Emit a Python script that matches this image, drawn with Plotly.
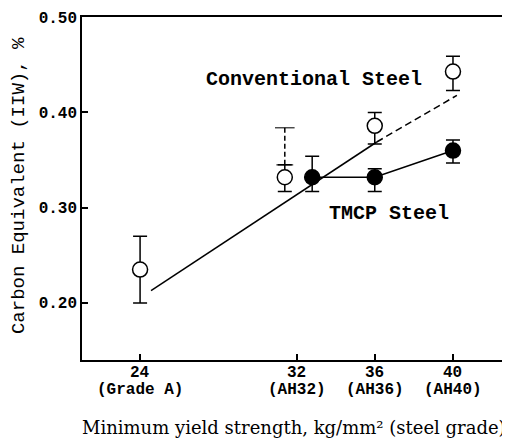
import plotly.graph_objects as go

# yield strength (kg/mm2) and grade labels
tick_vals = [24, 32, 36, 40]
tick_num = ['24', '32', '36', '40']
tick_grade = ['(Grade A)', '(AH32)', '(AH36)', '(AH40)']

# conventional steel (open circles)
conv_x = [24, 31.4, 36, 40]
conv_ce = [0.235, 0.332, 0.386, 0.443]
conv_up = [0.270, 0.345, 0.400, 0.459]
conv_lo = [0.200, 0.317, 0.367, 0.423]
# dashed extension of the error bar at 32
conv_ext_x = [31.4, 31.4]
conv_ext_y = [0.345, 0.384]

# TMCP steel (filled circles)
tmcp_x = [32.8, 36, 40]
tmcp_ce = [0.332, 0.332, 0.360]
tmcp_up = [0.354, 0.341, 0.371]
tmcp_lo = [0.317, 0.317, 0.347]

# trend lines
conv_line_x = [24.56, 36.1]
conv_line_y = [0.213, 0.369]
conv_dash_x = [36.1, 40.2]
conv_dash_y = [0.369, 0.418]

mono = 'Liberation Mono'

fig = go.Figure()

fig.add_trace(go.Scatter(x=conv_line_x, y=conv_line_y, mode='lines',
                         line=dict(color='black', width=1.5), showlegend=False))
fig.add_trace(go.Scatter(x=conv_dash_x, y=conv_dash_y, mode='lines',
                         line=dict(color='black', width=1.5, dash='7px,4px'), showlegend=False))
fig.add_trace(go.Scatter(x=tmcp_x, y=tmcp_ce, mode='lines',
                         line=dict(color='black', width=1.5), showlegend=False))

fig.add_trace(go.Scatter(x=conv_ext_x, y=conv_ext_y, mode='lines+markers',
                         line=dict(color='black', width=1.5, dash='5px,3px'),
                         marker=dict(symbol='line-ew', size=[12, 14],
                                     line=dict(color='black', width=1.5)),
                         showlegend=False))

fig.add_trace(go.Scatter(
    x=conv_x, y=conv_ce, mode='markers',
    marker=dict(symbol='circle', size=15, color='white',
                line=dict(color='black', width=1.5)),
    error_y=dict(type='data', symmetric=False,
                 array=[u - c for u, c in zip(conv_up, conv_ce)],
                 arrayminus=[c - l for l, c in zip(conv_lo, conv_ce)],
                 color='black', thickness=1.5, width=7),
    showlegend=False))

fig.add_trace(go.Scatter(
    x=tmcp_x, y=tmcp_ce, mode='markers',
    marker=dict(symbol='circle', size=15, color='black',
                line=dict(color='black', width=1.5)),
    error_y=dict(type='data', symmetric=False,
                 array=[u - c for u, c in zip(tmcp_up, tmcp_ce)],
                 arrayminus=[c - l for l, c in zip(tmcp_lo, tmcp_ce)],
                 color='black', thickness=1.5, width=7),
    showlegend=False))

fig.add_annotation(x=32.9, y=0.435, text='Conventional Steel', showarrow=False,
                   font=dict(family=mono, size=20, color='black', weight='bold'))
fig.add_annotation(x=36.73, y=0.294, text='TMCP Steel', showarrow=False,
                   font=dict(family=mono, size=20, color='black', weight='bold'))

# x tick labels: value and grade on two close lines
for v, n, g in zip(tick_vals, tick_num, tick_grade):
    fig.add_annotation(x=v, yref='paper', y=-0.037, text=n, showarrow=False,
                       yanchor='middle',
                       font=dict(family=mono, size=16, color='black', weight='bold'))
    fig.add_annotation(x=v, yref='paper', y=-0.087, text=g, showarrow=False,
                       yanchor='middle',
                       font=dict(family=mono, size=16, color='black', weight='bold'))

fig.add_annotation(xref='paper', yref='paper', x=-0.149, y=0.51,
                   xanchor='center', yanchor='middle',
                   text='Carbon Equivalent (IIW), %', textangle=-90, showarrow=False,
                   font=dict(family=mono, size=19, color='black'))
fig.add_annotation(xref='paper', yref='paper', x=0, y=-0.198, xanchor='left',
                   yanchor='middle', xshift=-2,
                   text='Minimum yield strength, kg/mm² (steel grade)', showarrow=False,
                   font=dict(family='DejaVu Serif', size=18, color='black'))

# broken right frame edge
fig.add_shape(type='line', xref='paper', yref='y', x0=1, x1=1, y0=0.50, y1=0.422,
              line=dict(color='black', width=1.5))

# the page body adds an 8px offset, so margins are shifted by that much
fig.update_layout(
    width=510, height=440,
    margin=dict(l=74, r=13, t=9, b=88),
    paper_bgcolor='white', plot_bgcolor='white',
    xaxis=dict(range=[21.03, 42.66], tickmode='array', tickvals=tick_vals,
               showticklabels=False, ticks='inside', ticklen=6, tickwidth=1.5,
               tickcolor='black', showline=True, linecolor='black', linewidth=1.5,
               mirror=True, showgrid=False, zeroline=False, automargin=False),
    yaxis=dict(range=[0.14, 0.5003], tickmode='array', tickvals=[0.2, 0.3, 0.4, 0.5],
               ticktext=['0.20', '0.30', '0.40', '0.50'], ticks='inside', ticklen=6,
               tickwidth=1.5, tickcolor='black', showline=True, linecolor='black',
               linewidth=1.5, showgrid=False, zeroline=False, automargin=False,
               ticklabeloverflow='allow',
               tickfont=dict(family=mono, size=16, color='black', weight='bold')),
)

fig.write_html('out.html')
